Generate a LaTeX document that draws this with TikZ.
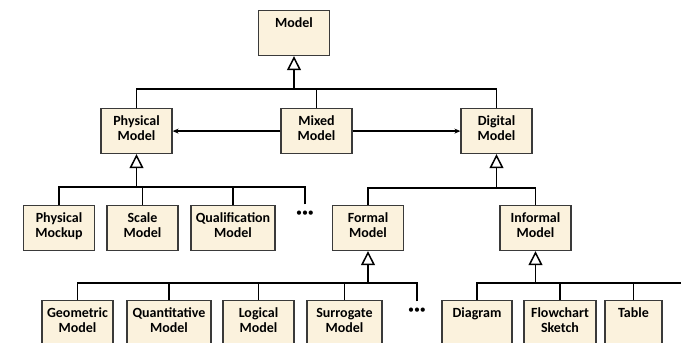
\documentclass[tikz,border=0pt]{standalone}
\usepackage{fontspec}
\setmainfont{Carlito}
\usepackage{xcolor}
\usepackage{tikz}
\usetikzlibrary{arrows.meta,positioning}

\definecolor{boxfill}{HTML}{FBF2DD}
\definecolor{boxline}{HTML}{3A3A3A}

\begin{document}
\begin{tikzpicture}[x=1pt, y=-1pt, line width=1.5pt, >={Stealth[length=6pt,width=5pt]}]
	\tikzset{cls/.style={draw=boxline, fill=boxfill, line width=1.2pt, anchor=north, align=center, text width=#1, inner xsep=0pt, inner ysep=4pt, text height=12.5pt, text depth=24.5pt, font=\bfseries\fontsize{14}{15.5}\selectfont}, cls/.default=71pt}
	\tikzstyle{more}=[inner sep=0pt, minimum height=18pt, font=\fontsize{12}{12}\selectfont]
	\tikzstyle{gen}=[-{Triangle[open,width=14pt,length=14pt]}]

	\useasboundingbox (0,0) rectangle (681,343);
	\clip (0,0) rectangle (681,343);

	\node[cls] (model) at (294,10) {Model};

	\node[cls] (phys) at (136.5,108) {Physical\\Model};
	\node[cls] (mixed) at (316.5,108) {Mixed\\Model};
	\node[cls] (digital) at (496.5,108) {Digital\\Model};

	\node[cls] (mockup) at (59,205) {Physical\\Mockup};
	\node[cls] (scale) at (142.5,205) {Scale\\Model};
	\node[cls=84pt] (qual) at (233,205) {Qualification\\Model};
	\node[more] (physmore) at (305,214) {•••};
	\node[cls] (formal) at (368,205) {Formal\\Model};
	\node[cls] (informal) at (535.5,205) {Informal\\Model};

	\node[cls] (geo) at (77.5,300) {Geometric\\Model};
	\node[cls=84pt] (quant) at (169,300) {Quantitative\\Model};
	\node[cls] (logical) at (258.5,300) {Logical\\Model};
	\node[cls=75pt] (surr) at (344.5,300) {Surrogate\\Model};
	\node[more] (formalmore) at (417,311) {•••};
	\node[cls=70pt] (diagram) at (477,300) {Diagram};
	\node[cls=72pt] (flow) at (560,300) {Flowchart\\Sketch};
	\node[cls=57pt] (table) at (633.5,300) {Table};

	\coordinate (modelbar) at (294,89);
	\coordinate (physbar) at (136.5,187);
	\coordinate (digbar) at (496.5,188);
	\coordinate (formbar) at (368,283);
	\coordinate (infbar) at (535.5,283);
	\coordinate (infend) at (690,283);

	\draw[gen] (modelbar) -- (model.south);
	\foreach \c in {phys,mixed,digital}
		\draw (\c.north) |- (modelbar);

	\draw[->] (mixed) -- (phys);
	\draw[->] (mixed) -- (digital);

	\draw[gen] (physbar) -- (phys.south);
	\foreach \c in {mockup,scale,qual,physmore}
		\draw (\c.north) |- (physbar);

	\draw[gen] (digbar) -- (digital.south);
	\foreach \c in {formal,informal}
		\draw (\c.north) |- (digbar);

	\draw[gen] (formbar) -- (formal.south);
	\foreach \c in {geo,quant,logical,surr,formalmore}
		\draw (\c.north) |- (formbar);

	\draw[gen] (infbar) -- (informal.south);
	\foreach \c in {diagram,flow,table}
		\draw (\c.north) |- (infbar);
	\draw (infbar) -- (infend);
\end{tikzpicture}
\end{document}
